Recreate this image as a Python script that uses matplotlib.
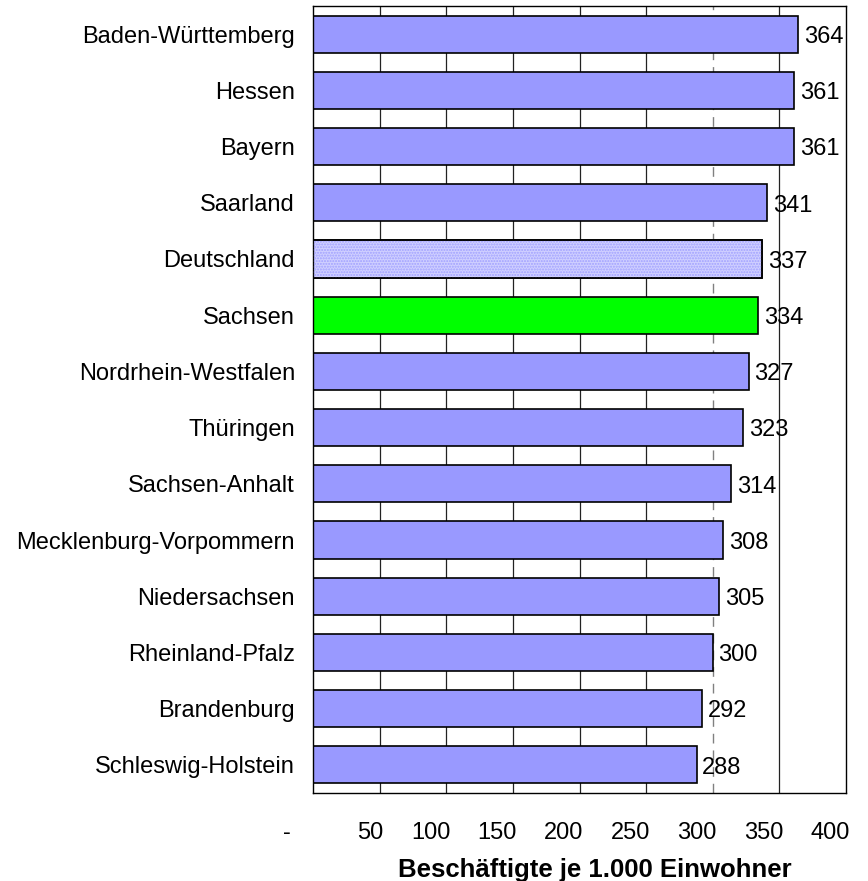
import matplotlib
matplotlib.use("Agg")
import matplotlib.pyplot as plt
import matplotlib.transforms as mtransforms

categories = ["Baden-Württemberg", "Hessen", "Bayern", "Saarland", "Deutschland",
              "Sachsen", "Nordrhein-Westfalen", "Thüringen", "Sachsen-Anhalt",
              "Mecklenburg-Vorpommern", "Niedersachsen", "Rheinland-Pfalz",
              "Brandenburg", "Schleswig-Holstein"]
values = [364, 361, 361, 341, 337, 334, 327, 323, 314, 308, 305, 300, 292, 288]
xticks = [0, 50, 100, 150, 200, 250, 300, 350, 400]
xticklabels = ["-    ", "50", "100", "150", "200", "250", "300", "350", "400"]
xlabel = "Beschäftigte je 1.000 Einwohner"

plt.rcParams['font.family'] = ['Liberation Sans', 'DejaVu Sans']
FS = 17

fig = plt.figure(figsize=(8.68, 8.81), dpi=100)
W, H = 868, 881
ax = fig.add_axes([313 / W, 1 - 793 / H, (846 - 313) / W, (793 - 6) / H])

base_color = "#9999ff"
colors = []
for c in categories:
    if c == "Sachsen":
        colors.append("#00ff00")
    elif c == "Deutschland":
        colors.append("#d0d0ff")
    else:
        colors.append(base_color)

ypos = list(range(len(categories)))
# grid lines
for t in xticks[1:-1]:
    if t == 300:
        ax.axvline(t, color="#808080", lw=1.0, ls=(0, (7, 5)), zorder=0)
    else:
        ax.axvline(t, color="#222222", lw=0.9, zorder=0)

bars = ax.barh(ypos, values, height=0.66, color=colors, edgecolor="black",
               linewidth=1.2, zorder=2)
# dither pattern for Deutschland
i_de = categories.index("Deutschland")
ax.barh([i_de], [values[i_de]], height=0.66, color="none", edgecolor="#a0a0ff",
        hatch="......", linewidth=0, zorder=3)
ax.barh([i_de], [values[i_de]], height=0.66, color="none", edgecolor="black",
        linewidth=1.2, zorder=4)

for y, v in zip(ypos, values):
    ax.annotate(f"{v}", xy=(v, y), xytext=(4, -2), textcoords="offset points",
                ha="left", va="center", fontsize=FS, zorder=5)

ax.set_xlim(0, 400)
ax.set_ylim(len(categories) - 0.5, -0.5)
ax.set_yticks(ypos)
ax.set_yticklabels(categories, fontsize=FS)
ax.tick_params(axis="y", length=0, pad=13)
ax.set_xticks(xticks)
ax.set_xticklabels(xticklabels, fontsize=FS)
ax.tick_params(axis="x", length=0, pad=21)
offset = mtransforms.ScaledTranslation(4 / 100, 0, fig.dpi_scale_trans)
for lab in ax.get_xticklabels():
    lab.set_horizontalalignment("right")
    lab.set_transform(lab.get_transform() + offset)

ax.set_xlabel(xlabel, fontsize=18.5, fontweight="bold")
ax.xaxis.set_label_coords(0.528, -0.082)

for s in ax.spines.values():
    s.set_color("black")
    s.set_linewidth(1.0)

fig.savefig("out.png", dpi=100, facecolor="white")
